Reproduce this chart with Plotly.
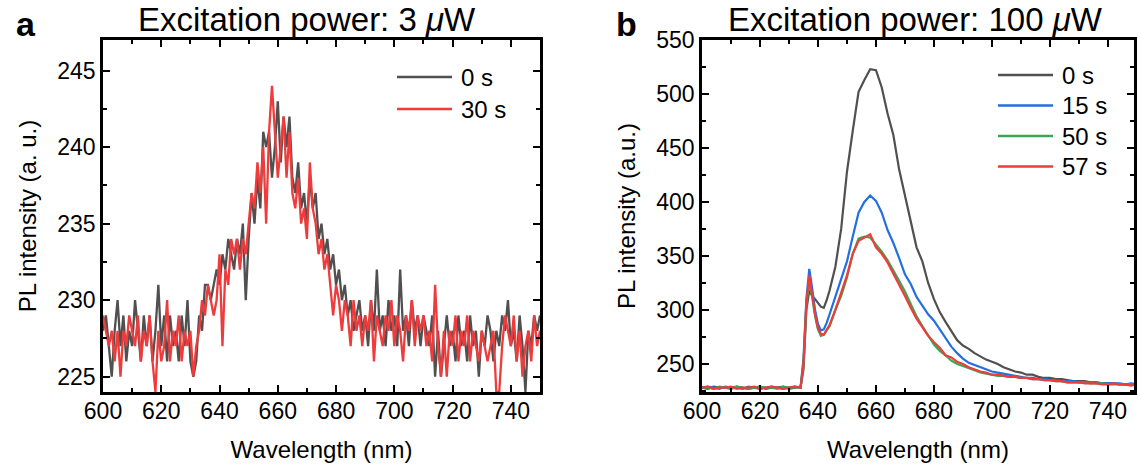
import plotly.graph_objects as go
from plotly.subplots import make_subplots

# panel a: 3 uW, 0 s vs 30 s
wl_a = list(range(600, 751))
a_0s = [228, 229, 227, 225, 228, 230, 227, 229, 226, 228,
        227, 230, 228, 226, 229, 227, 229, 226, 228, 231,
        227, 229, 226, 229, 227, 228, 226, 229, 227, 230,
        226, 225, 226, 229, 228, 231, 231, 230, 231, 232,
        231, 233, 232, 234, 233, 232, 234, 233, 235, 230,
        234, 237, 235, 238, 236, 241, 240, 241, 238, 240,
        243, 239, 242, 240, 242, 238, 237, 239, 236, 237,
        235, 238, 236, 237, 234, 235, 233, 234, 232, 233,
        231, 232, 230, 231, 229, 230, 228, 229, 230, 228,
        229, 227, 230, 228, 232, 228, 229, 227, 230, 228,
        229, 227, 232, 228, 229, 227, 230, 228, 229, 227,
        229, 228, 227, 229, 225, 228, 225, 227, 229, 227,
        228, 226, 229, 227, 228, 226, 229, 227, 228, 225,
        228, 227, 229, 228, 226, 228, 227, 229, 228, 230,
        227, 228, 226, 229, 227, 224, 228, 227, 229, 228,
        229]
a_30s = [229, 228, 227, 228, 226, 228, 225, 228, 227, 229,
         228, 227, 229, 226, 228, 227, 229, 226, 224, 228,
         226, 227, 230, 226, 228, 227, 229, 226, 228, 227,
         228, 225, 227, 228, 230, 229, 231, 230, 229, 230,
         233, 227, 232, 231, 234, 233, 234, 232, 234, 233,
         235, 237, 236, 239, 237, 240, 235, 241, 244, 241,
         238, 240, 242, 238, 241, 237, 236, 238, 235, 236,
         234, 239, 236, 235, 233, 234, 232, 233, 231, 229,
         231, 230, 228, 230, 229, 227, 230, 228, 229, 227,
         229, 228, 230, 226, 229, 228, 227, 229, 228, 230,
         227, 229, 228, 226, 229, 228, 230, 227, 229, 228,
         229, 227, 228, 226, 231, 227, 225, 228, 225, 228,
         227, 229, 226, 228, 227, 229, 226, 228, 227, 226,
         228, 227, 226, 227, 228, 224, 224, 227, 229, 228,
         227, 229, 226, 228, 225, 227, 228, 226, 229, 227,
         228]

# panel b: 100 uW, four exposure times
wl_b = [600, 602, 604, 606, 608, 610, 612, 614, 616, 618, 620, 622, 624, 626, 628, 630, 632, 634,
        635, 636, 637, 638, 639, 640, 641, 642, 643,
        644, 646, 648, 650, 652, 654, 656, 658, 660, 662, 664, 666, 668, 670, 672, 674, 676, 678,
        680, 682, 684, 686, 688, 690, 692, 694, 696, 698, 700, 702, 704, 706, 708, 710, 712, 714,
        716, 718, 720, 722, 724, 726, 728, 730, 732, 734, 736, 738, 740, 742, 744, 746, 748, 750]
b_0s = [228, 227, 229, 228, 228, 227, 229, 228, 227, 228, 229, 227, 228, 228, 229, 227, 228, 229,
        245, 300, 318, 313, 310, 306, 303, 302, 309,
        318, 340, 375, 428, 466, 502, 513, 523, 522, 506, 482, 462, 430, 405, 380, 358, 345, 325,
        310, 298, 289, 280, 272, 267, 264, 260, 257, 254, 252, 250, 247, 245, 243, 242, 240, 240,
        238, 237, 237, 236, 236, 235, 234, 234, 234, 233, 233, 232, 232, 232, 231, 231, 231, 230]
b_15s = [228, 229, 228, 227, 229, 228, 228, 227, 229, 228, 227, 228, 229, 228, 227, 228, 229, 228,
         255, 310, 338, 320, 300, 287, 281, 282, 288,
         296, 312, 328, 345, 368, 390, 400, 406, 401, 390, 374, 362, 348, 333, 324, 312, 304, 296,
         290, 282, 273, 266, 260, 255, 251, 249, 247, 245, 243, 242, 241, 240, 239, 238, 237, 237,
         236, 236, 235, 235, 234, 234, 234, 233, 233, 233, 233, 232, 232, 232, 232, 231, 232, 231]
b_50s = [228, 228, 227, 229, 228, 228, 229, 228, 227, 228, 229, 228, 228, 227, 229, 228, 228, 228,
         250, 305, 326, 312, 294, 282, 276, 277, 281,
         285, 300, 313, 330, 352, 366, 368, 367, 361, 354, 346, 337, 327, 317, 305, 294, 285, 276,
         268, 262, 258, 253, 250, 248, 246, 244, 242, 241, 240, 239, 239, 238, 238, 237, 237, 236,
         236, 235, 235, 234, 234, 233, 233, 233, 233, 232, 232, 232, 231, 231, 231, 231, 231, 230]
b_57s = [228, 229, 227, 228, 228, 229, 227, 228, 228, 229, 227, 228, 229, 228, 227, 228, 229, 228,
         250, 307, 332, 314, 296, 283, 278, 277, 282,
         286, 300, 316, 332, 352, 364, 367, 370, 358, 352, 344, 334, 324, 313, 302, 292, 284, 276,
         270, 265, 258, 256, 252, 250, 247, 245, 243, 242, 240, 240, 239, 238, 238, 237, 237, 236,
         236, 235, 235, 234, 234, 233, 233, 233, 232, 232, 232, 231, 231, 232, 231, 231, 230, 231]

names_a = ["0 s", "30 s"]
names_b = ["0 s", "15 s", "50 s", "57 s"]
GRAY, RED, BLUE, GREEN = "#505050", "#ef3b3b", "#2270e0", "#3aa655"
cols_a = [GRAY, RED]
cols_b = [GRAY, BLUE, GREEN, RED]

W, H = 1138, 467
FONT = "Liberation Sans"

fig = make_subplots(rows=1, cols=2)

for ys, nm, c in zip([a_0s, a_30s], names_a, cols_a):
    fig.add_trace(go.Scatter(x=wl_a, y=ys, name=nm, mode="lines",
                             line=dict(color=c, width=2.3), showlegend=False), row=1, col=1)
for ys, nm, c in zip([b_0s, b_15s, b_50s, b_57s], names_b, cols_b):
    fig.add_trace(go.Scatter(x=wl_b, y=ys, name=nm, mode="lines",
                             line=dict(color=c, width=2.2), showlegend=False), row=1, col=2)

ax = dict(showline=True, linecolor="black", linewidth=2.5, mirror="allticks",
          ticks="inside", ticklen=7, tickwidth=2, tickcolor="black",
          showgrid=False, zeroline=False, automargin=False,
          tickfont=dict(family=FONT, size=23, color="black"),
          title_font=dict(family=FONT, size=24, color="black"))

def px_x(p):
    return p / W

def px_y(p):
    return 1 - p / H

ydom = [px_y(392), px_y(40)]
fig.update_xaxes(**ax, range=[600, 750], tick0=600, dtick=20, ticklabelstandoff=-3,
                 minor=dict(ticks="inside", ticklen=4, tickwidth=2, tickcolor="black", dtick=10),
                 title_text="Wavelength (nm)", title_standoff=18)
fig.update_xaxes(domain=[px_x(103), px_x(540)], row=1, col=1)
fig.update_xaxes(domain=[px_x(702), px_x(1134)], range=[600, 749], row=1, col=2)
fig.update_yaxes(**ax, domain=ydom, ticklabelstandoff=0)
fig.update_yaxes(range=[224, 247], tick0=225, dtick=5,
                 minor=dict(ticks="inside", ticklen=4, tickwidth=2, tickcolor="black", dtick=2.5),
                 title_text="PL intensity (a. u.)", title_standoff=14, row=1, col=1)
fig.update_yaxes(range=[224, 550], tick0=250, dtick=50,
                 minor=dict(ticks="inside", ticklen=4, tickwidth=2, tickcolor="black", dtick=25),
                 title_text="PL intensity (a.u.)", title_standoff=14, row=1, col=2)

# titles and panel letters
ann = [
    dict(text="Excitation power: 3 <i>μ</i>W", x=px_x(307), y=px_y(20), font_size=33),
    dict(text="Excitation power: 100 <i>μ</i>W", x=px_x(915), y=px_y(20), font_size=33),
    dict(text="<b>a</b>", x=px_x(26), y=px_y(24), font_size=34),
    dict(text="<b>b</b>", x=px_x(626), y=px_y(24), font_size=34),
]
for a in ann:
    fig.add_annotation(xref="paper", yref="paper", showarrow=False,
                       xanchor="center", yanchor="middle",
                       font=dict(family=FONT, size=a.pop("font_size"), color="black"), **a)

# hand-drawn legends (longer line samples than plotly's own)
def legend(names, colors, x0, x1, y0, dy):
    for i, (nm, c) in enumerate(zip(names, colors)):
        yy = px_y(y0 + i * dy)
        fig.add_shape(type="line", xref="paper", yref="paper",
                      x0=px_x(x0), x1=px_x(x1), y0=yy, y1=yy, line=dict(color=c, width=2.5))
        fig.add_annotation(xref="paper", yref="paper", showarrow=False, x=px_x(x1 + 7), y=yy,
                           xanchor="left", yanchor="middle", text=nm,
                           font=dict(family=FONT, size=24, color="black"))

legend(names_a, cols_a, 397, 452, 77, 32)
legend(names_b, cols_b, 998, 1053, 75, 30.5)

fig.update_layout(width=W, height=H, margin=dict(l=0, r=0, t=0, b=0),
                  paper_bgcolor="white", plot_bgcolor="white", showlegend=False,
                  font=dict(family=FONT, color="black"))

# drop the page's default body margin so the figure sits at the window corner
fig.write_html("out.html", config={"displayModeBar": False},
               post_script="document.body.style.margin='0';")
